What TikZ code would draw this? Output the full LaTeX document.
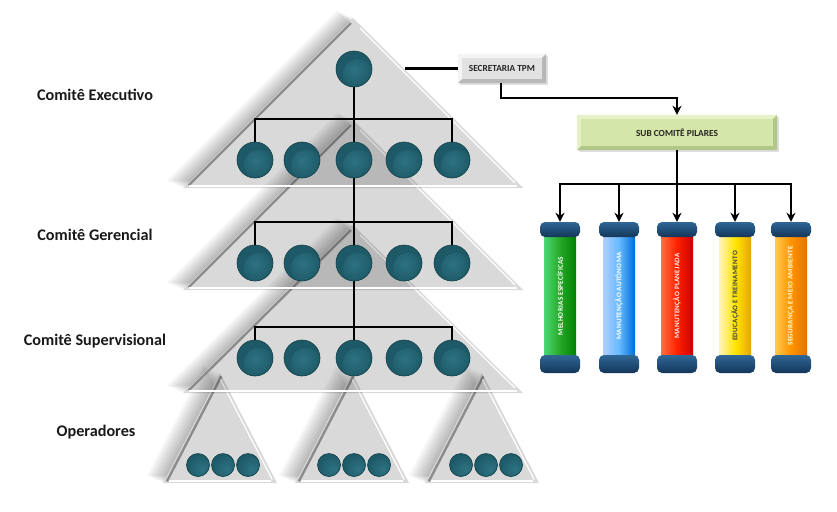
\documentclass[tikz,border=0pt]{standalone}
\usepackage{fontspec}
\setmainfont{Carlito}
\newfontfamily\pfontfam[LetterSpace=4]{Carlito}
\usetikzlibrary{arrows.meta,calc,shadows}
\definecolor{tealA}{HTML}{1D5966}
\definecolor{tealB}{HTML}{14414B}
\definecolor{tealC}{HTML}{2E7282}
\definecolor{capL}{HTML}{2F6796}
\definecolor{capD}{HTML}{143659}
\definecolor{secBase}{HTML}{E2E2E2}
\definecolor{secLight}{HTML}{F4F4F4}
\definecolor{secDark}{HTML}{B8B8B8}
\definecolor{subBase}{HTML}{D4E6A8}
\definecolor{subLight}{HTML}{E6F1C8}
\definecolor{subDark}{HTML}{B2C787}
\newcommand\pfont{\pfontfam\bfseries\fontsize{7.1}{8}\selectfont}
\newcommand\tripath[4]{(#1,#2) -- ++(-#3,#4) -- ++(2*#3,0) -- cycle}
\newcommand\drawtri[4]{%
  \begin{scope}[even odd rule]
    \clip (-60,-60) rectangle (900,600) \tripath{#1}{#2}{#3}{#4};
    \foreach \k in {1,...,9}{
      \fill[black,opacity=0.032] ([shift={(-1.8*\k,-0.8*\k)}]#1,#2) -- ++(-#3,#4) -- ++(2*#3,0) -- cycle;
    }
  \end{scope}
  \fill[black,fill opacity=0.15] \tripath{#1}{#2}{#3}{#4};
  \draw[black!45,line width=2.4] ($(#1,#2)!0.03!(#1-#3,#2+#4)+(3,0)$) -- ($(#1,#2)!0.985!(#1-#3,#2+#4)+(3,0)$);
  \draw[white,line width=1.2] ($(#1,#2)!0.06!(#1+#3,#2+#4)+(-3,0)$) -- ($(#1,#2)!0.97!(#1+#3,#2+#4)+(-3,0)$);
  \draw[white,line width=2] (#1-#3+6,#2+#4-2) -- (#1+#3-6,#2+#4-2);
}
\newcommand\mypillar[8]{%
  \node[minimum width=40,minimum height=151,inner sep=0] (#1) at (#2,297.5) {};
  \shade[left color=#3,right color=#5,middle color=#4] (#2-16,233) rectangle (#2+16,358);
  \shade[top color=capL,bottom color=capD,rounded corners=5] (#2-20,222) rectangle (#2+20,237);
  \shade[top color=capL,bottom color=capD,rounded corners=5] (#2-20,355) rectangle (#2+20,373);
  \node[rotate=90,text=#7,font=\pfont,inner sep=0] at (#2,296) {#6};
}
\newcommand\bevel[4]{%
  \fill[#3] (#1.north west) -- (#1.north east) -- ([shift={(-4,4)}]#1.north east) -- ([shift={(4,4)}]#1.north west) -- cycle;
  \fill[#3] (#1.north west) -- (#1.south west) -- ([shift={(4,-4)}]#1.south west) -- ([shift={(4,4)}]#1.north west) -- cycle;
  \fill[#4] (#1.south west) -- (#1.south east) -- ([shift={(-4,-4)}]#1.south east) -- ([shift={(4,-4)}]#1.south west) -- cycle;
  \fill[#4] (#1.north east) -- (#1.south east) -- ([shift={(-4,-4)}]#1.south east) -- ([shift={(-4,4)}]#1.north east) -- cycle;
}
\begin{document}
\begin{tikzpicture}[x=1pt,y=-1pt,
  ball/.style={circle,fill=tealA,draw=tealB,line width=0.6,inner sep=0,minimum size=36,
    path picture={\shade[inner color=tealC,outer color=tealA] ([shift={(4,5)}]path picture bounding box.center) circle (15);}},
  sball/.style={ball,minimum size=23},
  treeline/.style={line width=2.6,black},
  conn/.style={line width=2.2,black},
  arr/.style={conn,-{Stealth[length=9,width=9]}},
  lvl/.style={font=\bfseries\fontsize{16.2}{19}\selectfont,text=black!90},
  boxtxt/.style={font=\bfseries\fontsize{9.3}{11}\selectfont,text=black!85,inner sep=0}
]
\useasboundingbox (0,0) rectangle (837,511);
\fill[white] (0,0) rectangle (837,511);

% triangles, back to front
\drawtri{220}{373}{57}{110}
\drawtri{352}{373}{57}{110}
\drawtri{482}{373}{57}{110}
\drawtri{353}{225}{170}{168}
\drawtri{353}{120}{170}{170}
\drawtri{353}{18}{170}{170}

% level labels
\node[lvl] (lExe) at (95,95) {Comitê Executivo};
\node[lvl] (lGer) at (95,235) {Comitê Gerencial};
\node[lvl] (lSup) at (95,341) {Comitê Supervisional};
\node[lvl] (lOpe) at (96,432) {Operadores};

% circles
\node[ball] (c0) at (354,69) {};
\foreach \r/\y in {1/160,2/263,3/358}{
  \node[ball] (r\r a) at (255,\y) {};
  \node[ball] (r\r b) at (302,\y) {};
  \node[ball] (r\r c) at (354,\y) {};
  \node[ball] (r\r d) at (404,\y) {};
  \node[ball] (r\r e) at (452,\y) {};
}
\foreach \g/\x in {1/223,2/354,3/486}{
  \node[sball] (o\g a) at (\x-25,465) {};
  \node[sball] (o\g b) at (\x,465) {};
  \node[sball] (o\g c) at (\x+25,465) {};
}

% tree connectors
\coordinate (b1) at (354,119);
\coordinate (b2) at (354,222);
\coordinate (b3) at (354,327);
\draw[treeline] (c0.south) -- (r1c.north);
\draw[treeline] (r1a.north) |- (b1) -| (r1e.north);
\draw[treeline] (r1c.south) -- (r2c.north);
\draw[treeline] (r2a.north) |- (b2) -| (r2e.north);
\draw[treeline] (r2c.south) -- (r3c.north);
\draw[treeline] (r3a.north) |- (b3) -| (r3e.north);

% secretaria
\node[boxtxt,fill=secBase,minimum width=88,minimum height=29,
  drop shadow={shadow xshift=2pt,shadow yshift=-2pt,opacity=0.25}] (sec) at (502,68.5) {};
\bevel{sec}{secBase}{secLight}{secDark}
\node[boxtxt] (secT) at (sec.center) {SECRETARIA TPM};

% sub comite
\node[boxtxt,fill=subBase,minimum width=200,minimum height=35,
  drop shadow={shadow xshift=2pt,shadow yshift=-2pt,opacity=0.25}] (sub) at (677,132.5) {};
\bevel{sub}{subBase}{subLight}{subDark}
\node[boxtxt] (subT) at (sub.center) {SUB COMITÊ PILARES};

\coordinate (te) at (405,68.5);
\draw[conn] (te) -- (sec.west);
\coordinate (s1) at (501,83);
\draw[arr] (s1) -- ++(0,15) -| (sub.north);

% pillars
\mypillar{p1}{560}{green!55!teal!70!white}{green!60!black!85}{green!50!black}{MELHORIAS ESPECÍFICAS}{white}{}
\mypillar{p2}{619}{cyan!35!blue!30!white}{cyan!55!blue!60!white}{blue!50!cyan!85!black}{MANUTENÇÃO AUTÔNOMA}{white}{}
\mypillar{p3}{677}{red!50!orange!75!white}{red!75!orange}{red!80!black}{MANUTENÇÃO PLANEJADA}{white!95!red}{}
\mypillar{p4}{735}{yellow!60!orange!25!white}{yellow!80!orange}{orange!55!yellow!90!black}{EDUCAÇÃO E TREINAMENTO}{black!75}{}
\mypillar{p5}{791}{orange!60!yellow!70!white}{orange!85!yellow}{orange!90!black}{SEGURANÇA E MEIO AMBIENTE}{white!85!yellow}{}

\coordinate (pb) at (677,184);
\draw[conn] (sub.south) -- (pb);
\foreach \p in {p1,p2,p3,p4,p5}{
  \draw[arr] (pb) -| (\p.north);
}
\end{tikzpicture}
\end{document}
